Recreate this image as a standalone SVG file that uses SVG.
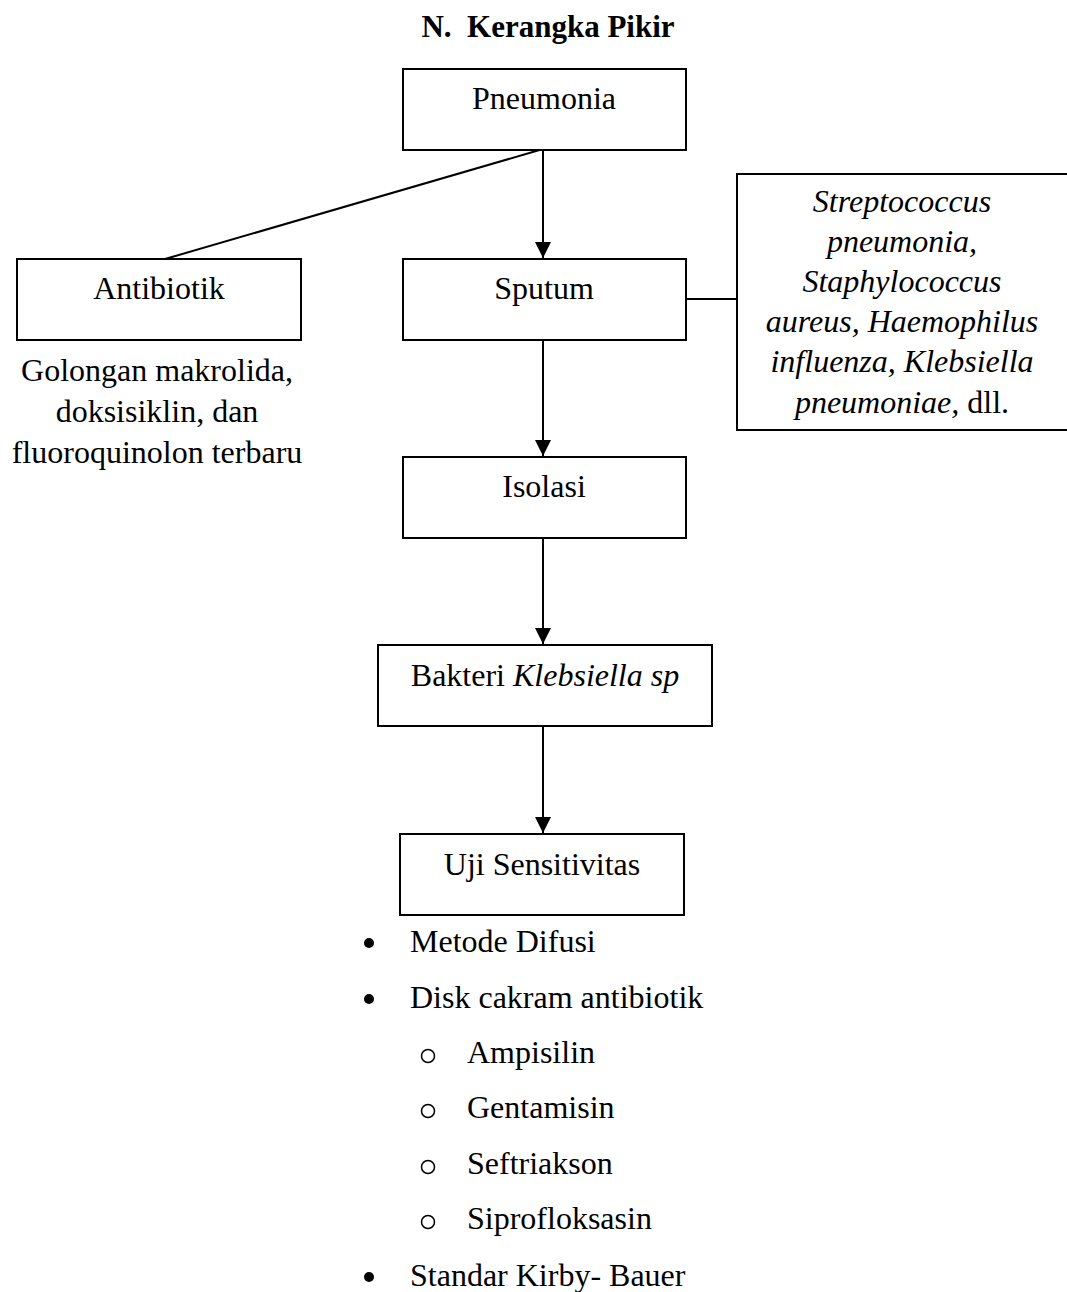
<svg xmlns="http://www.w3.org/2000/svg" width="1067" height="1292" viewBox="0 0 1067 1292">
<defs>
<style>
.box{fill:#fff;stroke:#000;stroke-width:2}
.t{font-family:"Liberation Serif","Times New Roman",serif;font-size:32px;fill:#000}
.c{text-anchor:middle}
.it{font-style:italic}
.ti{font-family:"Liberation Serif","Times New Roman",serif;font-size:31px;font-weight:bold;fill:#000}
.ln{stroke:#000;stroke-width:2;fill:none}
</style>
<marker id="ah" viewBox="0 0 16 16" refX="16" refY="8" markerWidth="16" markerHeight="16" markerUnits="userSpaceOnUse" orient="auto">
<path d="M0,0 L16,8 L0,16 Z" fill="#000"/>
</marker>
</defs>
<rect width="1067" height="1292" fill="#fff"/>
<text class="ti" x="548" y="37" text-anchor="middle" xml:space="preserve">N.  Kerangka Pikir</text>

<g id="connectors">
<line class="ln" x1="543" y1="149" x2="543" y2="258" marker-end="url(#ah)"/>
<line class="ln" x1="543" y1="149" x2="165" y2="259"/>
<line class="ln" x1="686" y1="299" x2="737" y2="299"/>
<line class="ln" x1="543" y1="340" x2="543" y2="456" marker-end="url(#ah)"/>
<line class="ln" x1="543" y1="538" x2="543" y2="644" marker-end="url(#ah)"/>
<line class="ln" x1="543" y1="726" x2="543" y2="833" marker-end="url(#ah)"/>
</g>

<g id="pneumonia">
<rect class="box" x="403" y="69" width="283" height="81"/>
<text class="t c" x="544" y="109">Pneumonia</text>
</g>

<g id="antibiotik">
<rect class="box" x="17" y="259" width="284" height="81"/>
<text class="t c" x="159" y="299">Antibiotik</text>
<text class="t c" x="157" y="381">Golongan makrolida,</text>
<text class="t c" x="157" y="422">doksisiklin, dan</text>
<text class="t c" x="157" y="463">fluoroquinolon terbaru</text>
</g>

<g id="sputum">
<rect class="box" x="403" y="259" width="283" height="81"/>
<text class="t c" x="544" y="299">Sputum</text>
</g>

<g id="bakteri-list">
<rect class="box" x="737" y="174" width="335" height="256"/>
<text class="t c it" x="902" y="212">Streptococcus</text>
<text class="t c it" x="902" y="252">pneumonia,</text>
<text class="t c it" x="902" y="292">Staphylococcus</text>
<text class="t c it" x="902" y="332">aureus, Haemophilus</text>
<text class="t c it" x="902" y="372">influenza, Klebsiella</text>
<text class="t c" x="902" y="413"><tspan class="it">pneumoniae,</tspan> dll.</text>
</g>

<g id="isolasi">
<rect class="box" x="403" y="457" width="283" height="81"/>
<text class="t c" x="544" y="497">Isolasi</text>
</g>

<g id="klebsiella">
<rect class="box" x="378" y="645" width="334" height="81"/>
<text class="t c" x="545" y="686">Bakteri <tspan class="it">Klebsiella sp</tspan></text>
</g>

<g id="uji">
<rect class="box" x="400" y="834" width="284" height="81"/>
<text class="t c" x="542" y="875">Uji Sensitivitas</text>
</g>

<g id="list">
<circle cx="369" cy="943" r="5" fill="#000"/>
<text class="t" x="410" y="952">Metode Difusi</text>
<circle cx="369" cy="999" r="5" fill="#000"/>
<text class="t" x="410" y="1008">Disk cakram antibiotik</text>
<circle cx="428" cy="1056" r="6.5" fill="none" stroke="#000" stroke-width="1.5"/>
<text class="t" x="467" y="1063">Ampisilin</text>
<circle cx="428" cy="1111" r="6.5" fill="none" stroke="#000" stroke-width="1.5"/>
<text class="t" x="467" y="1118">Gentamisin</text>
<circle cx="428" cy="1167" r="6.5" fill="none" stroke="#000" stroke-width="1.5"/>
<text class="t" x="467" y="1174">Seftriakson</text>
<circle cx="428" cy="1222" r="6.5" fill="none" stroke="#000" stroke-width="1.5"/>
<text class="t" x="467" y="1229">Siprofloksasin</text>
<circle cx="369" cy="1277" r="5" fill="#000"/>
<text class="t" x="410" y="1286">Standar Kirby- Bauer</text>
</g>
</svg>
